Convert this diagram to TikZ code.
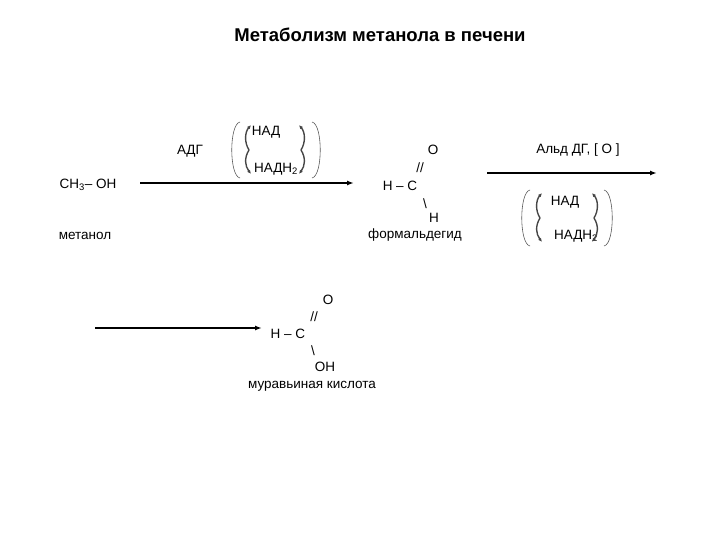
\documentclass[tikz,border=0pt]{standalone}
\usepackage{fontspec}
\setmainfont{Liberation Sans}
\usetikzlibrary{arrows.meta}
\begin{document}
\begin{tikzpicture}[x=1pt,y=-1pt,
  lbl/.style={inner sep=0pt,font=\fontsize{13.5}{15}\selectfont},
  rxn/.style={line width=1.5pt,-{Latex[length=7pt,width=5pt]}},
  brk/.style={line width=0.6pt,gray!70!black},
  cur/.style={line width=1.4pt,gray!55!black,-{Latex[length=4pt,width=3.5pt]}}]
\useasboundingbox (0,0) rectangle (720,540);
\node[lbl,font=\bfseries\fontsize{18.5}{20}\selectfont] (title) at (380,35) {Метаболизм метанола в печени};
% step 1
\node[lbl] (adg) at (190,151) {АДГ};
\node[lbl] (nad1) at (266,132) {НАД};
\node[lbl] (nadh1) at (276,169) {НАДН\textsubscript{2}};
\draw[brk] (240,122) .. controls (229,124) and (229,176) .. (240,178);
\draw[brk] (312,122) .. controls (323,124) and (323,176) .. (312,178);
\draw[cur] (249,150) .. controls (244,142) and (245,132) .. (251,125);
\draw[cur] (249,150) .. controls (244,158) and (245,166) .. (251,174);
\draw[cur] (301,150) .. controls (306,142) and (305,132) .. (299,125);
\draw[cur] (301,150) .. controls (306,158) and (305,166) .. (299,174);
\coordinate (a1s) at (140,183); \coordinate (a1e) at (354,183);
\draw[rxn] (a1s) -- (a1e);
\node[lbl] (meth) at (88,185) {CH\textsubscript{3}– OH};
\node[lbl] (methn) at (85,236) {метанол};
% formaldehyde
\node[lbl] (fo) at (433,150) {O};
\node[lbl] (fd) at (420,168) {//};
\node[lbl] (fhc) at (400,186) {H – C};
\node[lbl] (fb) at (425,204) {\textbackslash};
\node[lbl] (fh) at (434,218) {H};
\node[lbl] (fn) at (415,235) {формальдегид};
% step 2
\coordinate (a2s) at (487,173); \coordinate (a2e) at (657,173);
\draw[rxn] (a2s) -- (a2e);
\node[lbl] (ald) at (578,150) {Альд ДГ, [ О ]};
\node[lbl] (nad2) at (565,202) {НАД};
\node[lbl] (nadh2) at (576,236) {НАДН\textsubscript{2}};
\draw[brk] (530,190) .. controls (519,192) and (519,244) .. (530,246);
\draw[brk] (604,190) .. controls (615,192) and (615,244) .. (604,246);
\draw[cur] (540,218) .. controls (535,210) and (536,200) .. (542,193);
\draw[cur] (540,218) .. controls (535,226) and (536,234) .. (542,242);
\draw[cur] (594,218) .. controls (599,210) and (598,200) .. (592,193);
\draw[cur] (594,218) .. controls (599,226) and (598,234) .. (592,242);
% formic acid
\coordinate (a3s) at (95,328); \coordinate (a3e) at (262,328);
\draw[rxn] (a3s) -- (a3e);
\node[lbl] (ao) at (328,300) {O};
\node[lbl] (ad) at (314,317) {//};
\node[lbl] (ahc) at (288,334) {H – C};
\node[lbl] (ab) at (313,351) {\textbackslash};
\node[lbl] (aoh) at (325,367) {OH};
\node[lbl] (an) at (312,386) {муравьиная кислота};
\end{tikzpicture}
\end{document}
